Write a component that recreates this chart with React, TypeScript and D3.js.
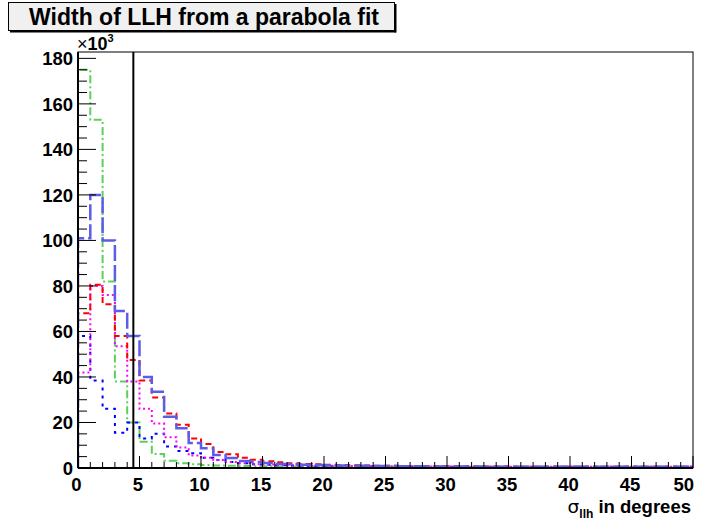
import React from "react";
import * as d3 from "d3";

const W = 703;
const H = 525;

const titleText = "Width of LLH from a parabola fit";
const xTickValues = [0, 5, 10, 15, 20, 25, 30, 35, 40, 45, 50];
const yTickValues = [0, 20, 40, 60, 80, 100, 120, 140, 160, 180];
const cutValue = 4.5;

// bin contents (in units of 10^3), bins of width 1 from 0 to 50
const blueLong = [
  101, 120, 100, 69, 58, 40, 33.5, 22.5, 17.5, 11,
  8.7, 5.7, 4.4, 3.1, 2.6, 2.2, 1.8, 1.6, 1.4, 1.3,
  1.2, 1.1, 1.0, 1.0, 0.9, 0.9, 0.8, 0.8, 0.8, 0.7,
  0.7, 0.7, 0.7, 0.6, 0.6, 0.6, 0.6, 0.6, 0.5, 0.5,
  0.5, 0.5, 0.5, 0.5, 0.5, 0.5, 0.5, 0.5, 0.5, 0.5,
];
const redDashed = [
  68, 80.5, 72, 58, 47.5, 38.5, 31, 24, 19, 13,
  10.5, 7, 6, 4.5, 3.6, 3, 2.5, 2.1, 1.8, 1.6,
  1.4, 1.3, 1.2, 1.1, 1.0, 1.0, 0.9, 0.9, 0.8, 0.8,
  0.8, 0.7, 0.7, 0.7, 0.7, 0.6, 0.6, 0.6, 0.6, 0.6,
  0.5, 0.5, 0.5, 0.5, 0.5, 0.5, 0.5, 0.5, 0.5, 0.5,
];
const magentaDotted = [
  42, 80, 76, 53.5, 38, 26, 19.5, 13.5, 9, 5.5,
  4.5, 3.5, 2.6, 2.1, 1.7, 1.5, 1.3, 1.2, 1.1, 1.0,
  1.0, 0.9, 0.9, 0.8, 0.8, 0.8, 0.7, 0.7, 0.7, 0.7,
  0.6, 0.6, 0.6, 0.6, 0.6, 0.6, 0.5, 0.5, 0.5, 0.5,
  0.5, 0.5, 0.5, 0.5, 0.5, 0.5, 0.5, 0.5, 0.5, 0.5,
];
const blueDotted = [
  58, 38.5, 26, 15.5, 20, 13, 15, 9.5, 7.5, 6.5,
  4.5, 3.5, 2.6, 2.1, 1.6, 1.4, 1.2, 1.1, 1.0, 0.9,
  0.9, 0.8, 0.8, 0.8, 0.7, 0.7, 0.7, 0.7, 0.6, 0.6,
  0.6, 0.6, 0.6, 0.5, 0.5, 0.5, 0.5, 0.5, 0.5, 0.5,
  0.5, 0.5, 0.5, 0.5, 0.5, 0.5, 0.5, 0.5, 0.5, 0.5,
];
const greenDashDot = [
  175, 153, 82, 38, 20, 11.5, 6.2, 3.2, 2.1, 1.6,
  1.3, 1.1, 1.0, 0.9, 0.8, 0.8, 0.7, 0.7, 0.6, 0.6,
  0.6, 0.5, 0.5, 0.5, 0.5, 0.5, 0.4, 0.4, 0.4, 0.4,
  0.4, 0.4, 0.4, 0.4, 0.4, 0.4, 0.4, 0.4, 0.4, 0.4,
  0.4, 0.4, 0.4, 0.4, 0.4, 0.4, 0.4, 0.4, 0.4, 0.4,
];

const seriesList = [
  { name: "greenDashDot", values: greenDashDot, color: "#5ad25a", width: 2, dash: "8,3,2,3" },
  { name: "blueDotted", values: blueDotted, color: "#0000ff", width: 2, dash: "3,5" },
  { name: "magentaDotted", values: magentaDotted, color: "#ff00ff", width: 2, dash: "2,3" },
  { name: "redDashed", values: redDashed, color: "#ff0000", width: 2, dash: "6,4" },
  { name: "blueLong", values: blueLong, color: "#5c5ce6", width: 2.5, dash: "16,4" },
];

const L = 78, R = 693, T = 52, B = 468;

export default function App() {
  const x = d3.scaleLinear().domain([0, 50]).range([L, R]);
  const y = d3.scaleLinear().domain([0, 182.8]).range([B, T]);

  const line = d3.line<[number, number]>().x((d) => x(d[0])).y((d) => y(d[1]));

  const stepPts = (vals: number[]): [number, number][] => {
    const pts: [number, number][] = [[0, 0]];
    vals.forEach((v, i) => {
      pts.push([i, v]);
      pts.push([i + 1, v]);
    });
    pts.push([vals.length, 0]);
    return pts;
  };

  const xMinor = d3.range(0, 51, 1);
  const yMinor = d3.range(0, 181, 5);
  const font = "'Liberation Sans', Arial, sans-serif";
  const fs = 18.5;

  return (
    <svg width={W} height={H} style={{ display: "block", position: "absolute", left: 0, top: 0 }}>
      <rect x={0} y={0} width={W} height={H} fill="#ffffff" />
      {/* title box */}
      <rect x={8.5} y={2.5} width={386} height={28} fill="#f0f0f0" stroke="#000" strokeWidth={1} />
      <rect x={394.5} y={4} width={2} height={28.5} fill="#000" />
      <rect x={10} y={30.5} width={386} height={2} fill="#000" />
      <text x={204} y={25} textAnchor="middle" fontFamily={font} fontWeight="bold" fontSize={23}>
        {titleText}
      </text>

      {/* histograms */}
      <defs>
        <clipPath id="plotclip">
          <rect x={L} y={T} width={R - L} height={B - T} />
        </clipPath>
      </defs>
      <g clipPath="url(#plotclip)">
        {seriesList.map((s) => (
          <path
            key={s.name}
            d={line(stepPts(s.values)) || ""}
            fill="none"
            stroke={s.color}
            strokeWidth={s.width}
            strokeDasharray={s.dash}
          />
        ))}
      </g>

      {/* cut line */}
      <line x1={x(cutValue)} x2={x(cutValue)} y1={T} y2={B} stroke="#000" strokeWidth={2} />

      {/* frame */}
      <rect x={L} y={T} width={R - L} height={B - T} fill="none" stroke="#000" strokeWidth={1} />
      <line x1={L} x2={L} y1={T} y2={B} stroke="#000" strokeWidth={2} />
      <line x1={L} x2={R} y1={B} y2={B} stroke="#000" strokeWidth={2} />

      {/* x ticks */}
      {xMinor.map((v) => (
        <line
          key={"xt" + v}
          x1={x(v)}
          x2={x(v)}
          y1={B}
          y2={B - (v % 5 === 0 ? 12 : 6)}
          stroke="#000"
          strokeWidth={1}
        />
      ))}
      {xTickValues.map((v, i) => {
        const last = i === xTickValues.length - 1;
        return (
          <text
            key={"xl" + v}
            x={last ? R + 1 : x(v) - 1.5}
            y={491}
            textAnchor={last ? "end" : "middle"}
            fontFamily={font}
            fontWeight="bold"
            fontSize={fs}
          >
            {v}
          </text>
        );
      })}

      {/* y ticks */}
      {yMinor.map((v) => (
        <line
          key={"yt" + v}
          x1={L}
          x2={L + (v % 20 === 0 ? 18 : 9)}
          y1={y(v)}
          y2={y(v)}
          stroke="#000"
          strokeWidth={1}
        />
      ))}
      {yTickValues.map((v) => (
        <text key={"yl" + v} x={73} y={y(v) + 7} textAnchor="end" fontFamily={font} fontWeight="bold" fontSize={fs}>
          {v}
        </text>
      ))}
      <text x={77} y={50} fontFamily={font} fontSize={18}>
        ×
        <tspan fontWeight="bold">10</tspan>
        <tspan fontSize={11} fontWeight="bold" dy={-8}>3</tspan>
      </text>

      {/* x label */}
      <text x={691} y={513} textAnchor="end" fontFamily={font} fontWeight="bold" fontSize={fs}>
        <tspan fontFamily="'DejaVu Sans', sans-serif" fontWeight="normal">σ</tspan>
        <tspan fontSize={12} dy={5}>llh</tspan>
        <tspan dy={-5}> in degrees</tspan>
      </text>
    </svg>
  );
}
